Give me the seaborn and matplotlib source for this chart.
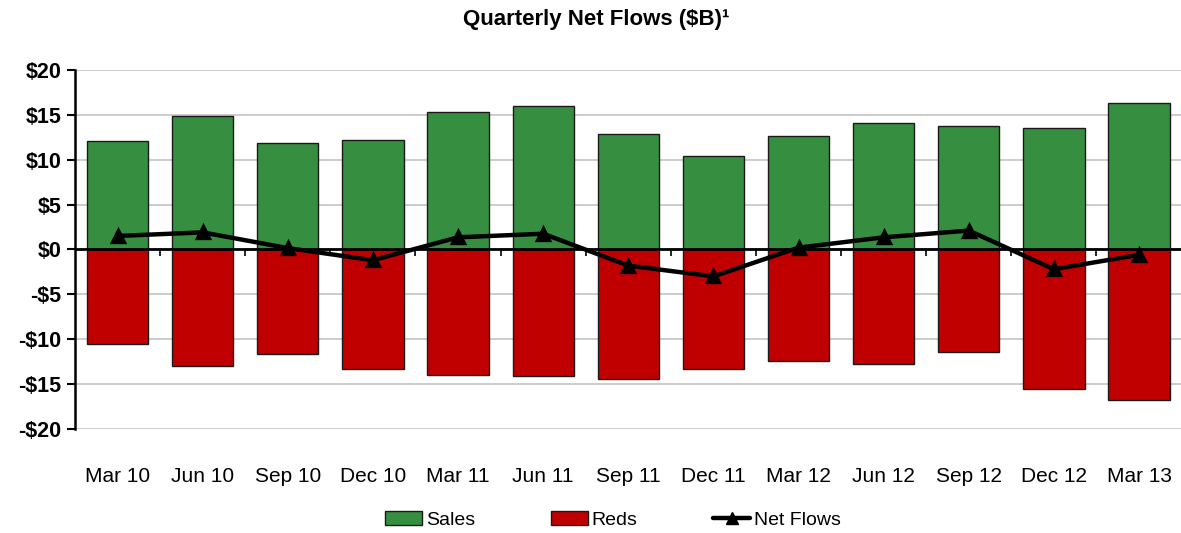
import matplotlib.pyplot as plt
import seaborn as sns
from matplotlib.lines import Line2D
from matplotlib.patches import Patch
from matplotlib.ticker import FixedLocator

# ─────────────────────────────────────────────────────────────────────────────
# DATA — quarterly sales, redemptions and net flows ($B)
# ─────────────────────────────────────────────────────────────────────────────
quarters = ["Mar 10", "Jun 10", "Sep 10", "Dec 10", "Mar 11", "Jun 11", "Sep 11",
            "Dec 11", "Mar 12", "Jun 12", "Sep 12", "Dec 12", "Mar 13"]
sales = [12.1, 14.9, 11.8, 12.2, 15.3, 16.0, 12.9, 10.4, 12.6, 14.1, 13.7, 13.5, 16.3]
reds = [-10.55, -13.0, -11.65, -13.3, -14.0, -14.1, -14.4, -13.3, -12.4, -12.7,
        -11.45, -15.5, -16.75]
net_flows = [1.5, 1.9, 0.15, -1.2, 1.35, 1.75, -1.8, -3.0, 0.2, 1.35, 2.1, -2.2, -0.6]
y_ticks = [-20, -15, -10, -5, 0, 5, 10, 15, 20]

GREEN = "#368F40"
RED = "#C00000"

sns.set_style("white")
plt.rcParams["font.family"] = ["Liberation Sans", "DejaVu Sans"]
plt.rcParams["text.color"] = "black"
plt.rcParams["xtick.color"] = "black"
plt.rcParams["ytick.color"] = "black"

fig = plt.figure(figsize=(11.81, 5.33), dpi=100)
ax = fig.add_axes([0.0635, 0.195, 0.937, 0.674])

# grid first so bars sit on top
for yv in y_ticks:
    ax.axhline(yv, color="#c8c8c8", lw=1.3, zorder=0)

sns.barplot(x=quarters, y=sales, color=GREEN, width=0.72, saturation=1,
            edgecolor="#1a1a1a", linewidth=1.0, ax=ax, zorder=2)
sns.barplot(x=quarters, y=reds, color=RED, width=0.72, saturation=1,
            edgecolor="#1a1a1a", linewidth=1.0, ax=ax, zorder=2)

ax.axhline(0, color="black", lw=2, zorder=3)

sns.pointplot(x=quarters, y=net_flows, color="black", marker="^", markersize=9,
              linewidth=3.2, ax=ax, zorder=5)

ax.set_xlim(-0.5, len(quarters) - 0.5)
ax.set_ylim(-20, 20)
ax.set_yticks(y_ticks)
ax.set_yticklabels([f"${v}" if v >= 0 else f"-${-v}" for v in y_ticks],
                   fontsize=15.5, fontweight="bold")
ax.tick_params(axis="y", direction="out", length=6, width=1.5, color="black",
               left=True, pad=4)

# category labels well below the plot, boundary ticks on the zero line
ax.spines["bottom"].set_position(("data", 0))
ax.spines["bottom"].set_visible(False)
ax.set_xticks(range(len(quarters)))
ax.set_xticklabels(quarters, fontsize=15)
ax.tick_params(axis="x", which="major", length=0, pad=157)
ax.xaxis.set_minor_locator(FixedLocator([i + 0.5 for i in range(len(quarters) - 1)]))
ax.tick_params(axis="x", which="minor", direction="out", length=5, width=1.2,
               color="black", bottom=True)

for side in ["top", "right"]:
    ax.spines[side].set_visible(False)
ax.spines["left"].set_color("black")
ax.spines["left"].set_linewidth(1.8)
ax.set_xlabel("")
ax.set_ylabel("")

fig.text(0.505, 0.963, "Quarterly Net Flows ($B)¹", ha="center", va="center",
         fontsize=16, fontweight="bold")

handles = [
    Patch(facecolor=GREEN, edgecolor="#1a1a1a", label="Sales"),
    Patch(facecolor=RED, edgecolor="#1a1a1a", label="Reds"),
    Line2D([0], [0], color="black", lw=3.2, marker="^", markersize=9, label="Net Flows"),
]
fig.legend(handles=handles, loc="center", bbox_to_anchor=(0.519, 0.024), ncol=3,
           frameon=False, fontsize=14, handlelength=1.9, handleheight=0.7,
           columnspacing=3.9, handletextpad=0.2)

fig.savefig("out.png", dpi=100)
